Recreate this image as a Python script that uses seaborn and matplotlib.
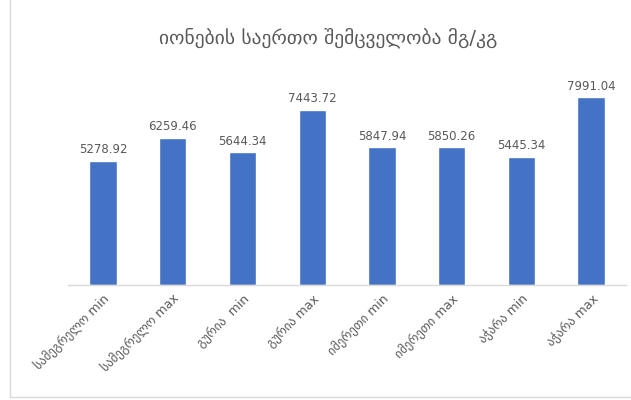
import matplotlib
matplotlib.use("Agg")
import matplotlib.pyplot as plt
import seaborn as sns
import pandas as pd
from matplotlib.patches import Rectangle

categories = ["სამეგრელო min", "სამეგრელო max", "გურია  min", "გურია max",
              "იმერეთი min", "იმერეთი max", "აჭარა min", "აჭარა max"]
values = [5278.92, 6259.46, 5644.34, 7443.72, 5847.94, 5850.26, 5445.34, 7991.04]
title = "იონების საერთო შემცველობა მგ/კგ"

df = pd.DataFrame({"cat": categories, "val": values})

sns.set_theme(style="white")
plt.rcParams["font.family"] = ["DejaVu Sans"]

fig = plt.figure(figsize=(6.31, 4.0), dpi=100)
ax = fig.add_axes([0.108, 0.2875, 0.884, 0.53])

sns.barplot(data=df, x="cat", y="val", color="#4472C4", saturation=1,
            width=0.39, ax=ax)

ax.set_ylim(0, 9000)
ax.set_xlim(-0.5, len(categories) - 0.5)
ax.set_xlabel("")
ax.set_ylabel("")
ax.set_yticks([])
for s in ["top", "right", "left"]:
    ax.spines[s].set_visible(False)
ax.spines["bottom"].set_color("#D9D9D9")
ax.spines["bottom"].set_linewidth(1.0)
ax.tick_params(axis="x", length=0, pad=5)
ax.set_xticks(range(len(categories)))
ax.set_xticklabels(categories, rotation=45, ha="right", rotation_mode="anchor",
                   fontsize=9, color="#595959")

for i, v in enumerate(values):
    ax.text(i, v + 180, f"{v:.2f}", ha="center", va="bottom",
            fontsize=8.5, color="#595959")

fig.text(0.52, 0.905, title, ha="center", va="center", fontsize=14,
         color="#595959")

fig.patches.append(Rectangle((10 / 631, 3 / 400), 1.0, 1.0, transform=fig.transFigure,
                             fill=False, edgecolor="#D9D9D9", linewidth=1.0))

fig.savefig("out.png", dpi=100)
